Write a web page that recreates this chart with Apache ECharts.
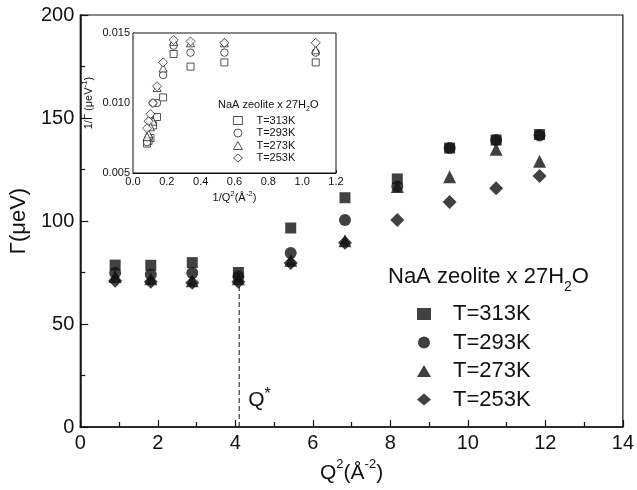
<!DOCTYPE html>
<html>
<head>
<meta charset="utf-8">
<script src="https://cdn.jsdelivr.net/npm/echarts@6/dist/echarts.min.js"></script>
<style>
  html, body { margin: 0; padding: 0; background: #fff; }
  #chart { width: 637px; height: 490px; }
</style>
</head>
<body>
<div id="chart"></div>
<script>
// Q^2 positions (Å^-2) and linewidths Γ (μeV) for the four temperatures
const q2 = [0.90, 1.82, 2.89, 4.08, 5.43, 6.83, 8.18, 9.53, 10.73, 11.85];
const gamma313 = [78.6, 78.5, 79.8, 75.0, 96.6, 111.3, 120.4, 135.4, 139.3, 142.0];
const gamma293 = [74.8, 74.0, 74.8, 73.0, 84.5, 100.5, 116.7, 135.4, 139.3, 141.5];
const gamma273 = [73.0, 72.0, 71.0, 72.0, 81.0, 90.4, 116.7, 121.5, 134.8, 129.0];
const gamma253 = [71.0, 70.5, 70.0, 70.5, 79.6, 89.5, 100.5, 109.2, 115.9, 121.8];

// inset: 1/Q^2 (Å^2) against 1/Γ (μeV^-1)
const invQ2 = [1.08, 0.54, 0.34, 0.24, 0.178, 0.142, 0.118, 0.103, 0.092, 0.083];
const invG313 = [0.0129, 0.0129, 0.0126, 0.0135, 0.0104, 0.0090, 0.0084, 0.0075, 0.0073, 0.0071];
const invG293 = [0.0136, 0.0136, 0.0136, 0.0141, 0.0120, 0.0100, 0.0100, 0.0087, 0.0075, 0.0072];
const invG273 = [0.0138, 0.0143, 0.0143, 0.0144, 0.0125, 0.0111, 0.0087, 0.0083, 0.0078, 0.0076];
const invG253 = [0.0143, 0.0143, 0.0144, 0.0145, 0.0129, 0.0112, 0.0100, 0.0092, 0.0087, 0.0082];

const tempNames = ['T=313K', 'T=293K', 'T=273K', 'T=253K'];
const symbols = ['rect', 'circle', 'triangle', 'diamond'];

// crossover marker
const qStar = 4.1;
const qStarTop = 68;

const FONT = '"Liberation Sans", Arial, Helvetica, sans-serif';
const INK = '#111';

const zip = (xs, ys) => xs.map((x, i) => [x, ys[i]]);
const mainSets = [gamma313, gamma293, gamma273, gamma253];
const insetSets = [invG313, invG293, invG273, invG253];
const mainSizes = [11, 12, 13, 14];
const insetSizes = [7, 7.5, 8, 9];

const series = [];
mainSets.forEach((ys, i) => {
  series.push({
    type: 'scatter', name: tempNames[i], xAxisIndex: 0, yAxisIndex: 0,
    data: zip(q2, ys), symbol: symbols[i], symbolSize: mainSizes[i],
    itemStyle: { color: INK }, z: 5 - i, silent: true
  });
});
insetSets.forEach((ys, i) => {
  series.push({
    type: 'scatter', name: tempNames[i], xAxisIndex: 1, yAxisIndex: 1,
    data: zip(invQ2, ys), symbol: symbols[i], symbolSize: insetSizes[i],
    itemStyle: { color: '#fff', borderColor: INK, borderWidth: 0.9 },
    z: 10 + i, silent: true
  });
});
series.push({
  type: 'line', xAxisIndex: 0, yAxisIndex: 0,
  data: [[qStar, 0], [qStar, qStarTop]],
  symbol: 'none', silent: true,
  lineStyle: { color: INK, width: 1, type: [5, 3] }, z: 1
});

const sup = { fontSize: 13, verticalAlign: 'top', lineHeight: 14, fontFamily: FONT, color: INK };
const supS = { fontSize: 8, verticalAlign: 'top', lineHeight: 8, fontFamily: FONT, color: INK };

const chart = echarts.init(document.getElementById('chart'), null, { renderer: 'canvas' });
chart.setOption({
  backgroundColor: '#fff',
  animation: false,
  textStyle: { fontFamily: FONT, color: INK },
  grid: [
    { left: 77, top: 15, right: 10, bottom: 63, show: true, borderColor: INK, borderWidth: 1.2, backgroundColor: 'transparent' },
    { left: 133, top: 33, width: 203, height: 140, show: true, borderColor: INK, borderWidth: 1, backgroundColor: '#fff', z: 8 }
  ],
  xAxis: [
    {
      gridIndex: 0, type: 'value', min: 0, max: 14, interval: 2,
      name: '{t|Q}{s|2}{t|(Å}{s|-2}{t|)}', nameLocation: 'middle', nameGap: 29,
      nameTextStyle: { rich: { t: { fontSize: 21, fontFamily: FONT, color: INK, lineHeight: 26, verticalAlign: 'bottom' }, s: sup } },
      axisLine: { lineStyle: { color: INK, width: 1.5 } },
      axisTick: { inside: true, length: 7, lineStyle: { color: INK, width: 1.2 } },
      minorTick: { show: true, splitNumber: 2, length: 5, lineStyle: { color: INK, width: 1.2 } },
      axisLabel: { fontSize: 20, color: INK, margin: 6, fontFamily: FONT },
      splitLine: { show: false }
    },
    {
      gridIndex: 1, type: 'value', min: 0, max: 1.2, interval: 0.2,
      name: '{t|1/Q}{s|2}{t|(Å}{s|-2}{t|)}', nameLocation: 'middle', nameGap: 17,
      nameTextStyle: { rich: { t: { fontSize: 11, fontFamily: FONT, color: INK, lineHeight: 13, verticalAlign: 'bottom' }, s: supS } },
      axisLine: { lineStyle: { color: INK, width: 1 } },
      axisTick: { inside: true, length: 3, lineStyle: { color: INK } },
      minorTick: { show: true, splitNumber: 2, length: 2, lineStyle: { color: INK } },
      axisLabel: { fontSize: 11, color: INK, margin: 3, fontFamily: FONT, formatter: v => v.toFixed(1) },
      splitLine: { show: false }
    }
  ],
  yAxis: [
    {
      gridIndex: 0, type: 'value', min: 0, max: 200, interval: 50,
      name: 'Γ(μeV)', nameLocation: 'middle', nameGap: 42, nameRotate: 90,
      nameTextStyle: { fontSize: 22, color: INK, fontFamily: FONT },
      axisLine: { lineStyle: { color: INK, width: 1.5 } },
      axisTick: { inside: true, length: 8, lineStyle: { color: INK, width: 1.2 } },
      minorTick: { show: true, splitNumber: 2, length: 5, lineStyle: { color: INK, width: 1.2 } },
      axisLabel: { fontSize: 20, color: INK, margin: 6, fontFamily: FONT },
      splitLine: { show: false }
    },
    {
      gridIndex: 1, type: 'value', min: 0.005, max: 0.015, interval: 0.005,
      name: '{t|1/Γ (μeV}{s|-1}{t|)}', nameLocation: 'middle', nameGap: 39, nameRotate: 90,
      nameTextStyle: { rich: { t: { fontSize: 11, fontFamily: FONT, color: INK, lineHeight: 13, verticalAlign: 'bottom' }, s: supS } },
      axisLine: { lineStyle: { color: INK, width: 1 } },
      axisTick: { inside: true, length: 3, lineStyle: { color: INK } },
      minorTick: { show: true, splitNumber: 2, length: 2, lineStyle: { color: INK } },
      axisLabel: { fontSize: 11, color: INK, margin: 3, fontFamily: FONT, formatter: v => v.toFixed(3) },
      splitLine: { show: false }
    }
  ],
  legend: [
    {
      orient: 'vertical', left: 412, top: 298, itemGap: 6.5,
      itemWidth: 14, itemHeight: 12, selectedMode: false,
      data: tempNames.map((n, i) => ({ name: n, icon: symbols[i] })),
      itemStyle: { color: INK, borderWidth: 0 },
      textStyle: { fontSize: 22, color: INK, fontFamily: FONT, padding: [0, 0, 0, 17] }
    },
    {
      orient: 'vertical', left: 228, top: 110, itemGap: 1.5,
      itemWidth: 9, itemHeight: 8, selectedMode: false,
      data: tempNames.map((n, i) => ({ name: n, icon: symbols[i] })),
      itemStyle: { color: '#fff', borderColor: INK, borderWidth: 0.9 },
      textStyle: { fontSize: 11, color: INK, fontFamily: FONT, padding: [0, 0, 0, 9] },
      z: 12
    }
  ],
  series: series
});

// legend titles and the Q* annotation
const qPos = chart.convertToPixel({ gridIndex: 0 }, [qStar, 0]);
chart.setOption({
  graphic: [
    {
      type: 'text', left: 388, top: 266, z: 20,
      style: {
        text: '{t|NaA zeolite x 27H}{s|2}{t|O}',
        rich: {
          t: { fontSize: 22, fontFamily: FONT, fill: INK, lineHeight: 28, verticalAlign: 'top' },
          s: { fontSize: 14, fontFamily: FONT, fill: INK, lineHeight: 28, verticalAlign: 'bottom' }
        }
      }
    },
    {
      type: 'text', left: 218, top: 99, z: 20,
      style: {
        text: '{t|NaA zeolite x 27H}{s|2}{t|O}',
        rich: {
          t: { fontSize: 11, fontFamily: FONT, fill: INK, lineHeight: 14, verticalAlign: 'top' },
          s: { fontSize: 7, fontFamily: FONT, fill: INK, lineHeight: 14, verticalAlign: 'bottom' }
        }
      }
    },
    {
      type: 'text', x: qPos[0] + 9, y: qPos[1] - 40, z: 20,
      style: {
        text: '{t|Q}{s|*}',
        rich: {
          t: { fontSize: 21, fontFamily: FONT, fill: INK, lineHeight: 24, verticalAlign: 'bottom' },
          s: { fontSize: 16, fontFamily: FONT, fill: INK, lineHeight: 24, verticalAlign: 'top' }
        }
      }
    }
  ]
});
</script>
</body>
</html>
